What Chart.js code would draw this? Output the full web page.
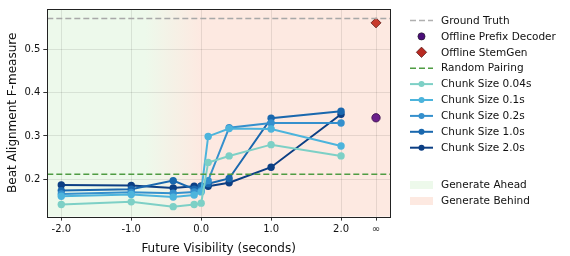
<!DOCTYPE html>
<html lang="en">
<head>
<meta charset="UTF-8">
<title>Beat Alignment vs Future Visibility</title>
<script src="https://cdn.jsdelivr.net/npm/chart.js"></script>
<style>
  body { margin: 0; background: #fff; }
  #wrap { width: 570px; height: 256px; }
</style>
</head>
<body>
<div id="wrap"><canvas id="chart" width="570" height="256"></canvas></div>
<script>
// future visibility in seconds (x) and beat F-measure per chunk size
const visibility = [-2.0, -1.0, -0.4, -0.1, 0.0, 0.1, 0.4, 1.0, 2.0];
const chunk004 = [0.142, 0.148, 0.137, 0.142, 0.145, 0.239, 0.254, 0.280, 0.254];
const chunk01  = [0.161, 0.165, 0.159, 0.164, 0.171, 0.299, 0.317, 0.316, 0.277];
const chunk02  = [0.166, 0.170, 0.168, 0.171, 0.174, 0.197, 0.319, 0.330, 0.330];
const chunk10  = [0.174, 0.177, 0.197, 0.177, 0.183, 0.190, 0.202, 0.341, 0.357];
const chunk20  = [0.187, 0.186, 0.180, 0.184, 0.185, 0.184, 0.192, 0.228, 0.350];
const chunkLabels = ['Chunk Size 0.04s', 'Chunk Size 0.1s', 'Chunk Size 0.2s', 'Chunk Size 1.0s', 'Chunk Size 2.0s'];
const chunkColors = ['#7dd0c6', '#4cb4dc', '#3590cd', '#1a68ae', '#0c3f84'];

const groundTruth = 0.571;
const randomPairing = 0.212;
const offlinePrefix = 0.342;
const offlineStemGen = 0.561;
const infinityX = 2.5;   // where "∞" sits on the x axis

const xTicks = [-2, -1, 0, 1, 2, 2.5];
const xTickLabels = ['-2.0', '-1.0', '0.0', '1.0', '2.0', '∞'];
const yTicks = [0.2, 0.3, 0.4, 0.5];

const aheadColor = '#edf9eb';
const behindColor = '#fde9e1';
const font = 'DejaVu Sans';

const chunkSeries = [chunk004, chunk01, chunk02, chunk10, chunk20];

function toPoints(ys) {
    return ys.map((y, i) => ({x: visibility[i], y: y}));
}

const datasets = [
    {
        label: 'Ground Truth',
        data: [{x: -2.2, y: groundTruth}, {x: 2.7, y: groundTruth}],
        borderColor: '#a8a8a8', borderWidth: 1.5, borderDash: [6, 3],
        pointRadius: 0
    },
    {
        label: 'Random Pairing',
        data: [{x: -2.2, y: randomPairing}, {x: 2.7, y: randomPairing}],
        borderColor: '#4f9c43', borderWidth: 1.5, borderDash: [6, 3],
        pointRadius: 0
    }
];
chunkSeries.forEach((ys, i) => {
    datasets.push({
        label: chunkLabels[i],
        data: toPoints(ys),
        borderColor: chunkColors[i],
        backgroundColor: chunkColors[i],
        borderWidth: 2,
        pointRadius: 3.7,
        pointBorderWidth: 0
    });
});
datasets.push({
    label: 'Offline Prefix Decoder',
    data: [{x: infinityX, y: offlinePrefix}],
    showLine: false,
    backgroundColor: '#6a1f8a', borderColor: '#3a0f4a', borderWidth: 0.8,
    pointRadius: 4.2
});
datasets.push({
    label: 'Offline StemGen',
    data: [{x: infinityX, y: offlineStemGen}],
    showLine: false, pointStyle: 'rectRot',
    backgroundColor: '#c83a2c', borderColor: '#5a1410', borderWidth: 0.8,
    pointRadius: 5
});

// legend entries in the order of the reference
const legendItems = [
    {label: 'Ground Truth', kind: 'dash', color: '#b0b0b0'},
    {label: 'Offline Prefix Decoder', kind: 'circle', color: '#4b0f7a'},
    {label: 'Offline StemGen', kind: 'diamond', color: '#b82a22'},
    {label: 'Random Pairing', kind: 'dash', color: '#4f9c43'},
    {label: chunkLabels[0], kind: 'line', color: chunkColors[0]},
    {label: chunkLabels[1], kind: 'line', color: chunkColors[1]},
    {label: chunkLabels[2], kind: 'line', color: chunkColors[2]},
    {label: chunkLabels[3], kind: 'line', color: chunkColors[3]},
    {label: chunkLabels[4], kind: 'line', color: chunkColors[4]}
];
const legendPatches = [
    {label: 'Generate Ahead', color: aheadColor},
    {label: 'Generate Behind', color: behindColor}
];

const decorPlugin = {
    id: 'decor',
    beforeDraw(chart) {
        const {ctx, chartArea: a, scales: {x}} = chart;
        const g = ctx.createLinearGradient(x.getPixelForValue(-0.8), 0, x.getPixelForValue(0.0), 0);
        g.addColorStop(0, aheadColor);
        g.addColorStop(1, behindColor);
        ctx.save();
        ctx.fillStyle = g;
        ctx.fillRect(a.left, a.top, a.right - a.left, a.bottom - a.top);
        ctx.restore();
    },
    afterDraw(chart) {
        const {ctx, chartArea: a} = chart;
        ctx.save();
        ctx.strokeStyle = '#222';
        ctx.lineWidth = 1;
        ctx.strokeRect(Math.round(a.left) + 0.5, Math.round(a.top) + 0.5,
                       Math.round(a.right - a.left), Math.round(a.bottom - a.top));

        // legend
        const x0 = a.right + 20, x1 = x0 + 23, tx = x1 + 8;
        ctx.font = '10.5px "' + font + '"';
        ctx.textBaseline = 'middle';
        legendItems.forEach((it, i) => {
            const y = 20.5 + i * 15.9;
            ctx.strokeStyle = it.color;
            ctx.fillStyle = it.color;
            if (it.kind === 'dash') {
                ctx.lineWidth = 1.5;
                ctx.setLineDash([6, 3]);
                ctx.beginPath(); ctx.moveTo(x0, y); ctx.lineTo(x1, y); ctx.stroke();
                ctx.setLineDash([]);
            } else if (it.kind === 'line') {
                ctx.lineWidth = 2;
                ctx.beginPath(); ctx.moveTo(x0, y); ctx.lineTo(x1, y); ctx.stroke();
                ctx.beginPath(); ctx.arc((x0 + x1) / 2, y, 3, 0, Math.PI * 2); ctx.fill();
            } else if (it.kind === 'circle') {
                ctx.beginPath(); ctx.arc((x0 + x1) / 2, y, 3.6, 0, Math.PI * 2); ctx.fill();
                ctx.strokeStyle = '#222'; ctx.lineWidth = 0.6; ctx.stroke();
            } else if (it.kind === 'diamond') {
                const cx = (x0 + x1) / 2, r = 5.2;
                ctx.beginPath();
                ctx.moveTo(cx, y - r); ctx.lineTo(cx + r, y); ctx.lineTo(cx, y + r); ctx.lineTo(cx - r, y);
                ctx.closePath(); ctx.fill();
                ctx.strokeStyle = '#3a0a08'; ctx.lineWidth = 0.6; ctx.stroke();
            }
            ctx.fillStyle = '#111';
            ctx.fillText(it.label, tx, y + 0.5);
        });
        legendPatches.forEach((it, i) => {
            const y = 185 + i * 16;
            ctx.fillStyle = it.color;
            ctx.fillRect(x0, y - 4, x1 - x0, 8);
            ctx.fillStyle = '#111';
            ctx.fillText(it.label, tx, y + 0.5);
        });
        ctx.restore();
    }
};

new Chart(document.getElementById('chart'), {
    type: 'line',
    data: {datasets: datasets},
    options: {
        responsive: false,
        animation: false,
        devicePixelRatio: 1,
        layout: {padding: {left: 6, right: 180, top: 0, bottom: 0}},
        plugins: {legend: {display: false}, tooltip: {enabled: false}},
        scales: {
            x: {
                type: 'linear', min: -2.2, max: 2.7,
                afterBuildTicks: s => { s.ticks = xTicks.map(v => ({value: v})); },
                ticks: {
                    color: '#111', font: {family: font, size: 10}, padding: 3,
                    maxRotation: 0, autoSkip: false,
                    callback: v => xTickLabels[xTicks.indexOf(v)]
                },
                grid: {color: 'rgba(0,0,0,0.09)', tickColor: '#333', tickLength: 4},
                border: {display: false},
                title: {display: true, text: 'Future Visibility (seconds)', color: '#111',
                        font: {family: font, size: 12}, padding: {top: 3, bottom: 0}}
            },
            y: {
                min: 0.114, max: 0.593,
                afterBuildTicks: s => { s.ticks = yTicks.map(v => ({value: v})); },
                ticks: {
                    color: '#111', font: {family: font, size: 10}, padding: 3,
                    callback: v => v.toFixed(1)
                },
                grid: {color: 'rgba(0,0,0,0.09)', tickColor: '#333', tickLength: 4},
                border: {display: false},
                title: {display: true, text: 'Beat Alignment F-measure', color: '#111',
                        font: {family: font, size: 12}, padding: {top: 0, bottom: 1}}
            }
        }
    },
    plugins: [decorPlugin]
});
</script>
</body>
</html>
